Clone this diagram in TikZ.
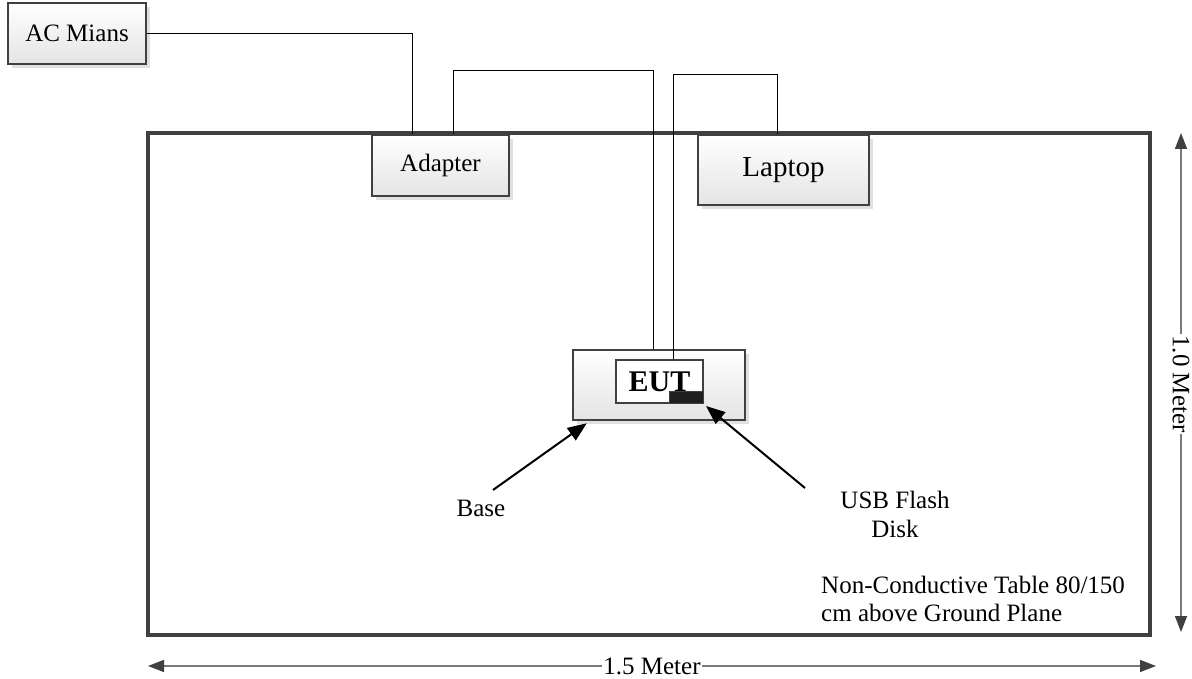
\documentclass[tikz,border=0pt]{standalone}
\usepackage{fontspec}
\setmainfont{Liberation Serif}
\usetikzlibrary{arrows.meta,shadows,calc}
\definecolor{boxline}{HTML}{404040}
\definecolor{boxbot}{HTML}{E4E4E4}
\definecolor{dimline}{HTML}{7A7A7A}
\begin{document}
\begin{tikzpicture}[x=1pt,y=-1pt,
  dev/.style={draw=boxline, line width=2.5pt, top color=white, bottom color=boxbot,
    drop shadow={shadow xshift=4pt, shadow yshift=-4pt, fill=black!12, opacity=1},
    inner sep=0pt, font=\fontsize{25}{30}\selectfont},
  wire/.style={draw=black, line width=0.9pt},
  ptr/.style={draw=black, line width=2pt, -{Triangle[length=19pt,width=15pt]}},
  dim/.style={draw=dimline, line width=1.6pt, {Triangle[length=16pt,width=12pt,color=boxline]}-{Triangle[length=16pt,width=12pt,color=boxline]}},
  lbl/.style={font=\fontsize{25}{30}\selectfont, inner sep=1pt},
]
\useasboundingbox (0,0) rectangle (1192,679);
% table
\node[draw=boxline, line width=3.5pt, minimum width=1002pt, minimum height=502pt, inner sep=0pt] (table) at (649,384) {};
% devices
\node[dev, minimum width=138pt, minimum height=61pt] (ac) at (77,33.5) {AC Mians};
\node[dev, minimum width=137pt, minimum height=61pt] (ad) at (440.5,165.5) {Adapter};
\node[dev, minimum width=171pt, minimum height=70pt, font=\fontsize{29}{34}\selectfont] (lap) at (783.5,170) {Laptop};
\node[dev, minimum width=172pt, minimum height=70pt] (eut) at (659,385) {};
\node[draw=boxline, line width=2pt, fill=white, minimum width=87pt, minimum height=43pt, inner sep=0pt,
  font=\fontsize{30}{34}\selectfont\bfseries] (inner) at (659.5,381.5) {EUT};
\node[draw=boxline, line width=1pt, fill=black!88, minimum width=34pt, minimum height=12pt, inner sep=0pt, anchor=south east] (usb) at (inner.south east) {};
% wires
\draw[wire] (ac.east) -| ([xshift=-28.5pt]ad.north);
\draw[wire] ([xshift=12.5pt]ad.north) -- ++(0,-63) -| ([xshift=-6pt]eut.north);
\draw[wire] ([xshift=13.5pt]inner.north) -- ++(0,-285) -| ([xshift=-6.5pt]lap.north);
% pointers
\node[lbl] (base) at (481,508) {Base};
\node[lbl, align=center] (usbtxt) at (895,514) {USB Flash\\[-1pt]Disk};
\coordinate (bt) at (493,490);
\coordinate (ut) at (805,488);
\draw[ptr] (bt) -- ($(eut.south west)+(15,2)$);
\draw[ptr] (ut) -- ($(usb.south east)+(2,2)$);
% table note
\node[lbl, align=left, anchor=north west, font=\fontsize{25}{28}\selectfont] (note) at (820,575) {Non-Conductive Table 80/150\\cm above Ground Plane};
% dimensions
\coordinate (vt) at (1181,133);
\coordinate (vb) at (1181,632);
\coordinate (hl) at (148,666);
\coordinate (hr) at (1156,666);
\draw[dim] (vt) -- (vb);
\draw[dim] (hl) -- (hr);
\node[lbl, fill=white, rotate=-90] (vlab) at (1181,384) {1.0 Meter};
\node[lbl, fill=white] (hlab) at (652,666) {1.5 Meter};
\end{tikzpicture}
\end{document}
